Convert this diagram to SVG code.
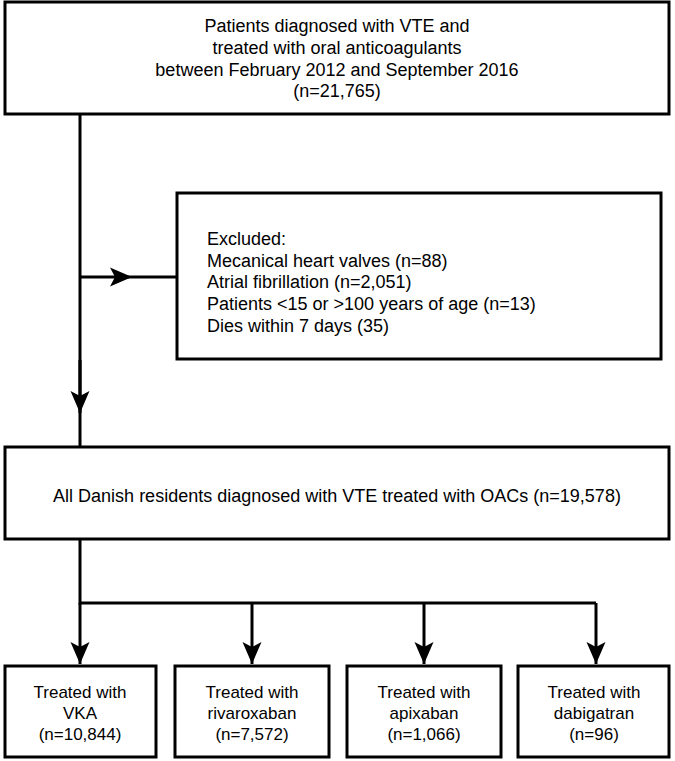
<svg xmlns="http://www.w3.org/2000/svg" width="675" height="761" viewBox="0 0 675 761">
<defs>
<style>
.box{fill:#fff;stroke:#000;stroke-width:3}
.ln{fill:none;stroke:#000;stroke-width:3}
text{font-family:"Liberation Sans",Arial,sans-serif;font-size:18px;fill:#000}
.c{text-anchor:middle}
.s{font-size:17px}
</style>
<marker id="ah" markerUnits="userSpaceOnUse" markerWidth="24" markerHeight="20" viewBox="-22 -10 24 20" refX="0" refY="0" orient="auto">
<path d="M0,0 L-22,-9.5 L-17,0 L-22,9.5 Z" fill="#000"/>
</marker>
</defs>
<rect width="675" height="761" fill="#fff"/>
<g id="connectors">
<path class="ln" d="M80,114 V447"/>
<path class="ln" d="M80,277 H132" marker-end="url(#ah)"/>
<path class="ln" d="M132,277 H177"/>
<path class="ln" d="M80,360 V413" marker-end="url(#ah)"/>
<path class="ln" d="M80,539 V603 H596"/>
<path class="ln" d="M80,603 V664" marker-end="url(#ah)"/>
<path class="ln" d="M252,603 V664" marker-end="url(#ah)"/>
<path class="ln" d="M424,603 V664" marker-end="url(#ah)"/>
<path class="ln" d="M596,603 V664" marker-end="url(#ah)"/>
</g>
<g id="top">
<rect class="box" x="5" y="2" width="664" height="112"/>
<text class="c" x="337" y="32">Patients diagnosed with VTE and</text>
<text class="c" x="337" y="54">treated with oral anticoagulants</text>
<text class="c" x="337" y="76">between February 2012 and September 2016</text>
<text class="c" x="337" y="97">(n=21,765)</text>
</g>
<g id="excluded">
<rect class="box" x="177" y="193" width="484" height="166"/>
<text x="207" y="245">Excluded:</text>
<text x="207" y="267">Mecanical heart valves (n=88)</text>
<text x="207" y="288">Atrial fibrillation (n=2,051)</text>
<text x="207" y="310">Patients &lt;15 or &gt;100 years of age (n=13)</text>
<text x="207" y="332">Dies within 7 days (35)</text>
</g>
<g id="all">
<rect class="box" x="5" y="447" width="664" height="92"/>
<text class="c" x="337" y="502">All Danish residents diagnosed with VTE treated with OACs (n=19,578)</text>
</g>
<g id="vka">
<rect class="box" x="5" y="666" width="151" height="91"/>
<text class="c s" x="80" y="698">Treated with</text>
<text class="c s" x="80" y="719">VKA</text>
<text class="c s" x="80" y="740">(n=10,844)</text>
</g>
<g id="rivaroxaban">
<rect class="box" x="175" y="666" width="154" height="91"/>
<text class="c s" x="252" y="698">Treated with</text>
<text class="c s" x="252" y="719">rivaroxaban</text>
<text class="c s" x="252" y="740">(n=7,572)</text>
</g>
<g id="apixaban">
<rect class="box" x="347" y="666" width="154" height="91"/>
<text class="c s" x="424" y="698">Treated with</text>
<text class="c s" x="424" y="719">apixaban</text>
<text class="c s" x="424" y="740">(n=1,066)</text>
</g>
<g id="dabigatran">
<rect class="box" x="518" y="666" width="151" height="91"/>
<text class="c s" x="594" y="698">Treated with</text>
<text class="c s" x="594" y="719">dabigatran</text>
<text class="c s" x="594" y="740">(n=96)</text>
</g>
</svg>
